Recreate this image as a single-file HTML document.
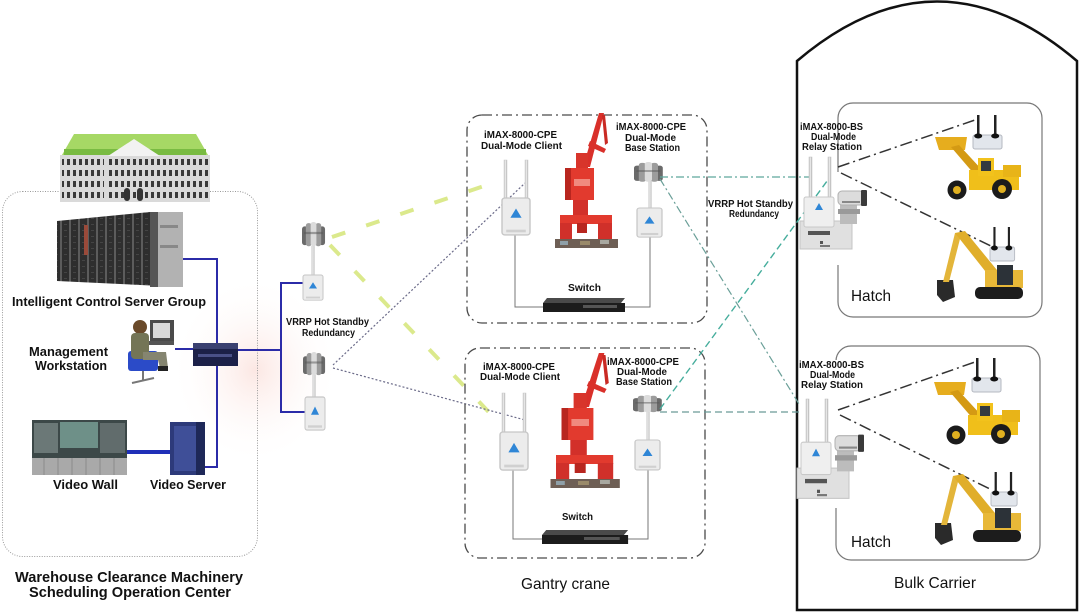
<!DOCTYPE html>
<html><head><meta charset="utf-8"><style>
html,body{margin:0;padding:0;background:#fff;}
svg{display:block;}
text{font-family:"Liberation Sans",Arial,sans-serif;fill:#111;}
.b{font-weight:bold;}
</style></head><body>
<svg width="1080" height="612" viewBox="0 0 1080 612" xmlns="http://www.w3.org/2000/svg">
<defs>
  <pattern id="win" x="0" y="157" width="6" height="11" patternUnits="userSpaceOnUse">
    <rect x="1" y="2" width="3" height="6" fill="#3a3a3a"/>
  </pattern>
  <pattern id="rack" x="0" y="0" width="9" height="6" patternUnits="userSpaceOnUse">
    <rect width="9" height="6" fill="#2e2e2e"/>
    <rect x="6" width="2" height="6" fill="#5c5c5c"/>
    <rect x="1" y="2" width="3" height="1" fill="#444"/>
  </pattern>
  <radialGradient id="pink" cx="0.5" cy="0.5" r="0.5">
    <stop offset="0" stop-color="#fbe1dc" stop-opacity="0.8"/>
    <stop offset="1" stop-color="#fff" stop-opacity="0"/>
  </radialGradient>
  <linearGradient id="pole" x1="0" x2="1">
    <stop offset="0" stop-color="#bdbdbd"/><stop offset="0.5" stop-color="#f0f0f0"/><stop offset="1" stop-color="#aaa"/>
  </linearGradient>
  <g id="omni">
    <rect x="0" y="4" width="6" height="17" rx="2.5" fill="#6a6a6a"/>
    <rect x="18" y="4" width="6" height="17" rx="2.5" fill="#6a6a6a"/>
    <rect x="4" y="1" width="6" height="21" rx="2.5" fill="#9c9c9c"/>
    <rect x="14" y="1" width="6" height="21" rx="2.5" fill="#9c9c9c"/>
    <rect x="9" y="0" width="6" height="22" rx="2.5" fill="#dcdcdc"/>
    <rect x="2" y="9" width="20" height="2" fill="#555" opacity="0.5"/>
  </g>
  <g id="obox">
    <rect x="0" y="0" width="20" height="28" rx="2" fill="#ececec" stroke="#c6c6c6"/>
    <polygon points="10,8 14,15 6,15" fill="#2f86d6"/>
    <rect x="3" y="24" width="14" height="2" fill="#d0d0d0"/>
  </g>
  <g id="crane">
    <polygon points="49,0 54,0 40,54 33,54" fill="#d9302a"/>
    <polygon points="52,2 55,2 58,30 55,32" fill="#c92a24"/>
    <polygon points="40,28 56,36 54,40 38,33" fill="#d9302a"/>
    <rect x="26" y="40" width="12" height="16" fill="#d8352b"/>
    <rect x="15" y="55" width="29" height="32" fill="#e23a2e"/>
    <rect x="24" y="66" width="16" height="7" fill="#f08a7e"/>
    <rect x="15" y="55" width="6" height="32" fill="#b8261f"/>
    <rect x="23" y="87" width="15" height="15" fill="#d2302a"/>
    <rect x="10" y="102" width="52" height="9" fill="#e23a2e"/>
    <rect x="10" y="110" width="12" height="18" fill="#d0302a"/>
    <rect x="48" y="110" width="14" height="18" fill="#d0302a"/>
    <rect x="27" y="110" width="10" height="10" fill="#b8261f"/>
    <rect x="5" y="126" width="63" height="9" fill="#6e5f55"/>
    <rect x="10" y="128" width="8" height="4" fill="#8fa0a8"/>
    <rect x="30" y="128" width="10" height="4" fill="#9a8a6a"/>
    <rect x="50" y="127" width="9" height="4" fill="#a8a8a0"/>
  </g>
  <g id="sw">
    <polygon points="4,0 82,0 78,5 0,5" fill="#4a4a4a"/>
    <rect x="0" y="5" width="82" height="9" fill="#1c1c1c"/>
    <rect x="40" y="7" width="34" height="3" fill="#555"/>
  </g>
  <g id="relay">
    <rect x="9" y="0" width="3" height="42" fill="url(#pole)" stroke="#c0c0c0" stroke-width="0.5"/>
    <rect x="28" y="0" width="3" height="42" fill="url(#pole)" stroke="#c0c0c0" stroke-width="0.5"/>
    <rect x="0" y="64" width="52" height="28" fill="#e0e0e0" stroke="#c4c4c4"/>
    <rect x="4" y="40" width="30" height="30" rx="2" fill="#efefef" stroke="#c8c8c8"/>
    <polygon points="19,46 23,53 15,53" fill="#2f86d6"/>
    <rect x="8" y="74" width="22" height="4" fill="#555"/>
    <rect x="20" y="84" width="3" height="3" fill="#555"/>
    <rect x="20" y="88" width="10" height="2" fill="#777"/>
    <rect x="40" y="47" width="17" height="20" fill="#bcbcbc"/>
    <rect x="38" y="52" width="22" height="5" fill="#9a9a9a"/>
    <rect x="38" y="34" width="26" height="14" rx="4" fill="#dcdcdc" stroke="#b0b0b0"/>
    <rect x="61" y="33" width="6" height="16" rx="1" fill="#3a3a3a"/>
    <rect x="42" y="44" width="18" height="2" fill="#888"/>
  </g>
  <g id="loader">
    <polygon points="2,2 34,2 32,15 6,15" fill="#e6ad1e"/>
    <polygon points="18,12 26,10 50,36 42,40" fill="#d49a14"/>
    <rect x="36" y="35" width="50" height="20" fill="#f0bf1a"/>
    <rect x="70" y="30" width="18" height="12" fill="#e8b418"/>
    <rect x="45" y="23" width="16" height="18" fill="#f2c21c"/>
    <rect x="48" y="26" width="10" height="10" fill="#333a40"/>
    <circle cx="24" cy="55" r="9.5" fill="#1b1b1b"/><circle cx="24" cy="55" r="4" fill="#e0b020"/>
    <circle cx="69" cy="54" r="10" fill="#1b1b1b"/><circle cx="69" cy="54" r="4" fill="#e0b020"/>
  </g>
  <g id="exc">
    <polygon points="2,55 18,55 20,72 8,77 2,70" fill="#2a2a2a"/>
    <polygon points="8,57 14,57 26,10 20,8" fill="#e3b53a"/>
    <polygon points="20,8 30,6 66,50 58,56" fill="#e0ae2a"/>
    <rect x="50" y="45" width="38" height="18" fill="#e8b838"/>
    <rect x="62" y="40" width="16" height="20" fill="#2c3238"/>
    <rect x="40" y="62" width="48" height="12" rx="5" fill="#1c1c1c"/>
  </g>
  <g id="mod">
    <rect x="0" y="20" width="29" height="14" rx="2" fill="#e2e6ec" stroke="#b4b8c0"/>
    <rect x="4" y="0" width="2.5" height="22" fill="#222"/>
    <rect x="21" y="0" width="2.5" height="22" fill="#222"/>
    <ellipse cx="5.2" cy="21" rx="4" ry="2.5" fill="#111"/>
    <ellipse cx="22.2" cy="21" rx="4" ry="2.5" fill="#111"/>
  </g>
</defs>

<rect width="1080" height="612" fill="#fff"/>
<ellipse cx="255" cy="370" rx="85" ry="95" fill="url(#pink)"/>

<!-- LEFT PANEL -->
<rect x="2.5" y="191.5" width="255" height="365" rx="20" fill="none" stroke="#9a9a9a" stroke-width="1" stroke-dasharray="1 1.5"/>
<!-- building -->
<rect x="60" y="155" width="150" height="47" fill="#dadada"/>
<rect x="62" y="157" width="146" height="44" fill="url(#win)"/>
<rect x="104" y="155" width="3" height="47" fill="#dadada"/>
<rect x="160" y="155" width="3" height="47" fill="#dadada"/>
<polygon points="62,155 74,134 196,134 208,155" fill="#a6d865"/>
<rect x="64" y="149" width="142" height="6" fill="#79bb42"/>
<polygon points="108,156 134,139 160,156" fill="#f2f2f2"/>
<rect x="124" y="188" width="6" height="13" rx="3" fill="#333"/>
<rect x="137" y="188" width="6" height="13" rx="3" fill="#333"/>
<!-- servers -->
<polygon points="57,221 150,212 183,212 183,287 57,281" fill="url(#rack)"/>
<rect x="150" y="212" width="33" height="75" fill="#b2b2b2"/>
<rect x="150" y="212" width="8" height="75" fill="#555"/>
<rect x="160" y="225" width="18" height="3" fill="#888"/>
<rect x="160" y="245" width="18" height="3" fill="#888"/>
<rect x="84" y="225" width="4" height="30" fill="#9a4a3a"/>
<!-- blue lines -->
<g stroke="#2b2ba8" stroke-width="2" fill="none">
  <polyline points="183,259 217,259 217,343"/>
  <line x1="175" y1="349" x2="193" y2="349"/>
  <polyline points="217,366 217,467 200,467"/>
  <polyline points="238,350 281,350"/>
  <polyline points="303,283 281,283 281,412 305,412"/>
</g>
<line x1="127" y1="452" x2="171" y2="452" stroke="#1f2fb8" stroke-width="4"/>
<!-- person -->
<rect x="150" y="320" width="24" height="22" fill="#4a4a4a"/>
<rect x="153" y="323" width="17" height="15" fill="#d9d9d9"/>
<rect x="148" y="341" width="26" height="4" fill="#555"/>
<rect x="128" y="351" width="30" height="20" rx="3" fill="#2b4bc8"/>
<line x1="143" y1="371" x2="143" y2="380" stroke="#777" stroke-width="2"/>
<line x1="132" y1="383" x2="154" y2="378" stroke="#777" stroke-width="2"/>
<circle cx="140" cy="327" r="7" fill="#6a4a2a"/>
<rect x="131" y="333" width="18" height="26" rx="4" fill="#747556"/>
<polygon points="143,352 166,352 168,368 160,368 158,360 143,360" fill="#858570"/>
<rect x="158" y="366" width="10" height="5" fill="#222"/>
<!-- left switch -->
<rect x="193" y="343" width="45" height="23" fill="#1c2048"/>
<rect x="193" y="343" width="45" height="6" fill="#3a4070"/>
<rect x="198" y="354" width="34" height="3" fill="#4a5088"/>
<!-- video wall -->
<rect x="32" y="420" width="95" height="38" fill="#3c4848"/>
<rect x="60" y="422" width="38" height="26" fill="#6e9088"/>
<rect x="34" y="423" width="24" height="30" fill="#8a9a98" opacity="0.6"/>
<rect x="100" y="423" width="25" height="30" fill="#7a8585" opacity="0.6"/>
<rect x="32" y="458" width="95" height="17" fill="#a9a9a9"/>
<g stroke="#8a8a8a" stroke-width="1"><line x1="44" y1="458" x2="44" y2="475"/><line x1="58" y1="458" x2="58" y2="475"/><line x1="72" y1="458" x2="72" y2="475"/><line x1="86" y1="458" x2="86" y2="475"/><line x1="100" y1="458" x2="100" y2="475"/><line x1="114" y1="458" x2="114" y2="475"/></g>
<!-- video server -->
<rect x="170" y="422" width="35" height="53" fill="#2d3a7a"/>
<rect x="174" y="426" width="22" height="45" fill="#3f4f98"/>
<rect x="196" y="422" width="9" height="53" fill="#1e2858"/>
<!-- left labels -->
<text x="12" y="306" class="b" font-size="13" textLength="194" lengthAdjust="spacingAndGlyphs">Intelligent Control Server Group</text>
<text x="29" y="356" class="b" font-size="13" textLength="79" lengthAdjust="spacingAndGlyphs">Management</text>
<text x="35" y="370" class="b" font-size="13" textLength="72" lengthAdjust="spacingAndGlyphs">Workstation</text>
<text x="53" y="489" class="b" font-size="13" textLength="65" lengthAdjust="spacingAndGlyphs">Video Wall</text>
<text x="150" y="489" class="b" font-size="13" textLength="76" lengthAdjust="spacingAndGlyphs">Video Server</text>
<text x="15" y="582" class="b" font-size="15" textLength="228" lengthAdjust="spacingAndGlyphs">Warehouse Clearance Machinery</text>
<text x="29" y="597" class="b" font-size="15" textLength="202" lengthAdjust="spacingAndGlyphs">Scheduling Operation Center</text>

<!-- wireless connectors (middle) -->
<g stroke="#dbe98c" stroke-width="4" fill="none" stroke-dasharray="14 22">
  <line x1="332" y1="237" x2="502" y2="180"/>
  <line x1="330" y1="245" x2="503" y2="427"/>
</g>
<g stroke="#6a6a88" stroke-width="1.2" fill="none" stroke-dasharray="2 2">
  <line x1="333" y1="365" x2="525" y2="183"/>
  <line x1="333" y1="368" x2="525" y2="420"/>
</g>

<!-- towers -->
<rect x="311.5" y="246" width="3" height="30" fill="url(#pole)"/>
<use href="#omni" transform="translate(302,222) scale(0.96,1.1)"/>
<use href="#obox" transform="translate(303,275) scale(1,0.9)"/>
<rect x="312.5" y="374" width="3" height="24" fill="url(#pole)"/>
<use href="#omni" transform="translate(303,352) scale(0.92,1.05)"/>
<use href="#obox" transform="translate(305,397) scale(1,1.18)"/>
<text x="286" y="325" class="b" font-size="10.5" textLength="83" lengthAdjust="spacingAndGlyphs">VRRP Hot Standby</text>
<text x="302" y="336" class="b" font-size="10.5" textLength="53" lengthAdjust="spacingAndGlyphs">Redundancy</text>

<!-- GANTRY BOXES -->
<g fill="none" stroke="#4a4a4a" stroke-width="1.3" stroke-dasharray="10 4 2 4">
  <rect x="467" y="115" width="240" height="208" rx="15"/>
  <rect x="465" y="348" width="240" height="210" rx="15"/>
</g>
<!-- gantry wiring -->
<g stroke="#777" stroke-width="1" fill="none">
  <polyline points="515,235 515,307 545,307"/>
  <polyline points="650,237 650,307 623,307"/>
  <polyline points="513,470 513,539 542,539"/>
  <polyline points="648,470 648,539 628,539"/>
</g>
<!-- top gantry devices -->
<rect x="504" y="160" width="3" height="40" fill="url(#pole)" stroke="#ccc" stroke-width="0.5"/>
<rect x="525" y="160" width="3" height="40" fill="url(#pole)" stroke="#ccc" stroke-width="0.5"/>
<use href="#obox" transform="translate(502,198) scale(1.4,1.32)"/>
<use href="#crane" transform="translate(550,113)"/>
<rect x="648.5" y="180" width="3" height="29" fill="url(#pole)"/>
<use href="#omni" transform="translate(634,162) scale(1.2,0.9)"/>
<use href="#obox" transform="translate(637,208) scale(1.25,1.04)"/>
<use href="#sw" transform="translate(543,298)"/>
<!-- bottom gantry devices -->
<rect x="502" y="393" width="3" height="42" fill="url(#pole)" stroke="#ccc" stroke-width="0.5"/>
<rect x="523" y="393" width="3" height="42" fill="url(#pole)" stroke="#ccc" stroke-width="0.5"/>
<use href="#obox" transform="translate(500,432) scale(1.4,1.36)"/>
<use href="#crane" transform="translate(545,353) scale(1.1,1)"/>
<rect x="646.5" y="410" width="3" height="31" fill="url(#pole)"/>
<use href="#omni" transform="translate(633,395) scale(1.2,0.78)"/>
<use href="#obox" transform="translate(635,440) scale(1.25,1.07)"/>
<use href="#sw" transform="translate(542,530) scale(1.05,1)"/>
<!-- gantry labels -->
<g class="b" font-size="10.5">
<text x="484" y="138" class="b" textLength="73" lengthAdjust="spacingAndGlyphs">iMAX-8000-CPE</text>
<text x="481" y="149" class="b" textLength="81" lengthAdjust="spacingAndGlyphs">Dual-Mode Client</text>
<text x="616" y="130" class="b" textLength="70" lengthAdjust="spacingAndGlyphs">iMAX-8000-CPE</text>
<text x="625" y="141" class="b" textLength="51" lengthAdjust="spacingAndGlyphs">Dual-Mode</text>
<text x="625" y="151" class="b" textLength="55" lengthAdjust="spacingAndGlyphs">Base Station</text>
<text x="568" y="291" class="b" textLength="33" lengthAdjust="spacingAndGlyphs">Switch</text>
<text x="483" y="370" class="b" textLength="72" lengthAdjust="spacingAndGlyphs">iMAX-8000-CPE</text>
<text x="480" y="380" class="b" textLength="80" lengthAdjust="spacingAndGlyphs">Dual-Mode Client</text>
<text x="607" y="365" class="b" textLength="72" lengthAdjust="spacingAndGlyphs">iMAX-8000-CPE</text>
<text x="617" y="375" class="b" textLength="50" lengthAdjust="spacingAndGlyphs">Dual-Mode</text>
<text x="616" y="385" class="b" textLength="56" lengthAdjust="spacingAndGlyphs">Base Station</text>
<text x="562" y="520" class="b" textLength="31" lengthAdjust="spacingAndGlyphs">Switch</text>
</g>
<text x="521" y="589" font-size="16" textLength="89" lengthAdjust="spacingAndGlyphs">Gantry crane</text>

<!-- SHIP -->
<path d="M797,610 L797,61 Q937,-58 1077,61 L1077,610 Z" fill="none" stroke="#111" stroke-width="2.5"/>
<g fill="none" stroke="#777" stroke-width="1.2">
  <rect x="838" y="103" width="204" height="214" rx="15"/>
  <rect x="836" y="346" width="204" height="214" rx="15"/>
</g>
<rect x="833" y="172" width="8" height="93" fill="#fff"/>
<rect x="831" y="360" width="8" height="148" fill="#fff"/>

<!-- teal connectors -->
<line x1="660" y1="177" x2="813" y2="177" stroke="#5ea89c" stroke-width="1.2" stroke-dasharray="8 3 2 3"/>
<line x1="660" y1="179" x2="799" y2="404" stroke="#6a9f98" stroke-width="1.2" stroke-dasharray="8 3 2 3"/>
<line x1="660" y1="409" x2="830" y2="177" stroke="#45ad9c" stroke-width="1.4" stroke-dasharray="7 4"/>
<line x1="660" y1="412" x2="801" y2="412" stroke="#6a9a98" stroke-width="1.2" stroke-dasharray="7 4"/>
<text x="708" y="207" class="b" font-size="10.5" textLength="85" lengthAdjust="spacingAndGlyphs">VRRP Hot Standby</text>
<text x="729" y="217" class="b" font-size="10.5" textLength="50" lengthAdjust="spacingAndGlyphs">Redundancy</text>

<!-- relay to vehicles -->
<g stroke="#333" stroke-width="1.5" fill="none" stroke-dasharray="12 4 2 4">
  <line x1="838" y1="167" x2="975" y2="120"/>
  <line x1="841" y1="173" x2="993" y2="247"/>
  <line x1="838" y1="410" x2="975" y2="362"/>
  <line x1="840" y1="415" x2="992" y2="490"/>
</g>

<!-- relays -->
<use href="#relay" transform="translate(800,157)"/>
<use href="#relay" transform="translate(797,399) scale(1,1.08)"/>

<!-- vehicles -->
<use href="#loader" transform="translate(933,135)"/>
<use href="#mod" transform="translate(973,115)"/>
<use href="#exc" transform="translate(935,225)"/>
<use href="#mod" transform="translate(990,227) scale(0.85,1)"/>
<use href="#loader" transform="translate(932,380)"/>
<use href="#mod" transform="translate(972,358) scale(1,1)"/>
<use href="#exc" transform="translate(933,468)"/>
<use href="#mod" transform="translate(991,472) scale(0.9,1)"/>

<!-- ship labels -->
<g class="b" font-size="10.5">
<text x="800" y="130" class="b" textLength="63" lengthAdjust="spacingAndGlyphs">iMAX-8000-BS</text>
<text x="811" y="140" class="b" textLength="45" lengthAdjust="spacingAndGlyphs">Dual-Mode</text>
<text x="802" y="150" class="b" textLength="60" lengthAdjust="spacingAndGlyphs">Relay Station</text>
<text x="799" y="368" class="b" textLength="65" lengthAdjust="spacingAndGlyphs">iMAX-8000-BS</text>
<text x="810" y="378" class="b" textLength="45" lengthAdjust="spacingAndGlyphs">Dual-Mode</text>
<text x="801" y="388" class="b" textLength="62" lengthAdjust="spacingAndGlyphs">Relay Station</text>
</g>
<text x="851" y="301" font-size="16" textLength="40" lengthAdjust="spacingAndGlyphs">Hatch</text>
<text x="851" y="547" font-size="16" textLength="40" lengthAdjust="spacingAndGlyphs">Hatch</text>
<text x="894" y="588" font-size="16" textLength="82" lengthAdjust="spacingAndGlyphs">Bulk Carrier</text>
</svg>
</body></html>
